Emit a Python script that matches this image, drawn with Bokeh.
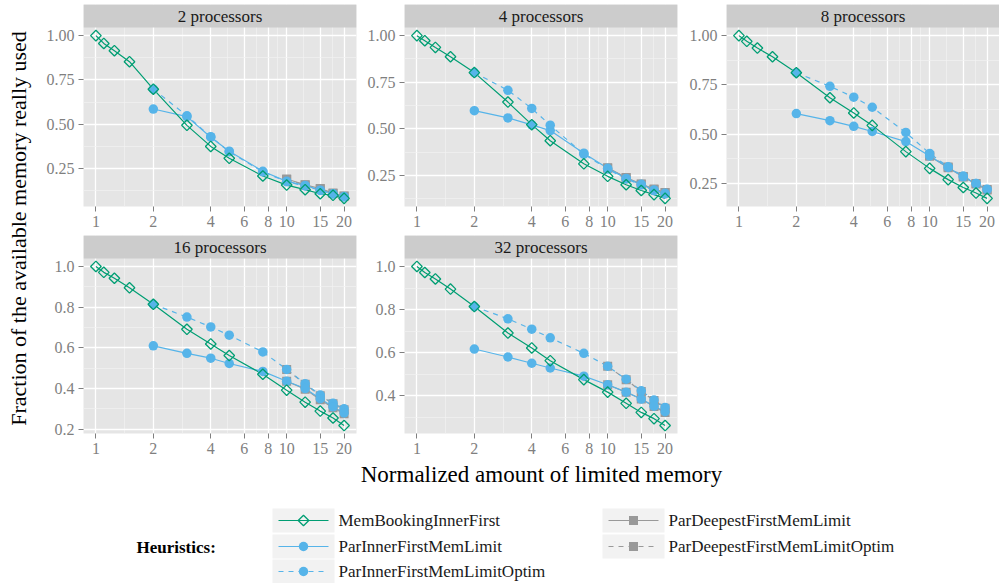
import math
from bokeh.plotting import figure
from bokeh.layouts import row, column
from bokeh.models import Range1d, FixedTicker, PrintfTickFormatter
from bokeh.embed import file_html
from bokeh.resources import INLINE
from bokeh.core.properties import value

# ---------------- data ----------------
X_MEM = [1, 1.1, 1.25, 1.5, 2, 3, 4, 5, 7.5, 10, 12.5, 15, 17.5, 20]
X_PAR = [2, 3, 4, 5, 7.5, 10, 12.5, 15, 17.5, 20]
X_DEEP = [10, 12.5, 15, 17.5, 20]
X_TICKS = [1, 2, 4, 6, 8, 10, 15, 20]

MEM_2 = [1.00, 0.956, 0.915, 0.853, 0.698, 0.494, 0.375, 0.308, 0.208, 0.157, 0.131, 0.108, 0.099, 0.082]
INNER_2 = [0.586, 0.543, 0.427, 0.348, 0.235, 0.178, 0.155, 0.128, 0.108, 0.092]
OPTIM_2 = [0.698, 0.548, 0.430, 0.345, 0.232, 0.176, 0.152, 0.127, 0.106, 0.090]
DEEP_2 = [0.191, 0.159, 0.137, 0.112, 0.095]
DEEPOPT_2 = [0.189, 0.157, 0.135, 0.110, 0.094]

MEM_4 = [1.00, 0.973, 0.937, 0.887, 0.802, 0.644, 0.523, 0.437, 0.313, 0.246, 0.201, 0.170, 0.148, 0.128]
INNER_4 = [0.598, 0.559, 0.522, 0.491, 0.370, 0.289, 0.235, 0.203, 0.173, 0.155]
OPTIM_4 = [0.802, 0.707, 0.610, 0.520, 0.365, 0.285, 0.232, 0.200, 0.170, 0.152]
DEEP_4 = [0.292, 0.240, 0.205, 0.178, 0.160]
DEEPOPT_4 = [0.290, 0.238, 0.203, 0.176, 0.158]

MEM_8 = [1.00, 0.971, 0.937, 0.893, 0.812, 0.685, 0.608, 0.545, 0.412, 0.327, 0.270, 0.230, 0.202, 0.175]
INNER_8 = [0.605, 0.569, 0.540, 0.514, 0.463, 0.390, 0.332, 0.284, 0.250, 0.221]
OPTIM_8 = [0.812, 0.743, 0.688, 0.637, 0.509, 0.403, 0.335, 0.288, 0.250, 0.220]
DEEP_8 = [0.388, 0.330, 0.283, 0.248, 0.218]
DEEPOPT_8 = [0.392, 0.334, 0.286, 0.250, 0.220]

MEM_16 = [1.00, 0.971, 0.942, 0.895, 0.814, 0.691, 0.619, 0.562, 0.470, 0.392, 0.333, 0.289, 0.255, 0.218]
INNER_16 = [0.610, 0.573, 0.549, 0.523, 0.484, 0.436, 0.400, 0.350, 0.310, 0.280]
OPTIM_16 = [0.814, 0.751, 0.703, 0.662, 0.580, 0.494, 0.424, 0.368, 0.328, 0.300]
DEEP_16 = [0.436, 0.397, 0.345, 0.306, 0.276]
DEEPOPT_16 = [0.494, 0.421, 0.365, 0.325, 0.296]

MEM_32 = [1.00, 0.972, 0.942, 0.895, 0.814, 0.691, 0.622, 0.563, 0.475, 0.417, 0.365, 0.323, 0.294, 0.262]
INNER_32 = [0.617, 0.580, 0.551, 0.529, 0.491, 0.451, 0.417, 0.385, 0.352, 0.326]
OPTIM_32 = [0.814, 0.757, 0.709, 0.669, 0.597, 0.537, 0.477, 0.423, 0.380, 0.346]
DEEP_32 = [0.451, 0.417, 0.385, 0.350, 0.322]
DEEPOPT_32 = [0.537, 0.475, 0.420, 0.378, 0.342]

PANEL_TITLES = ["2 processors", "4 processors", "8 processors", "16 processors", "32 processors"]
Y_TICKS_ROW1 = [0.25, 0.50, 0.75, 1.00]
Y_TICKS_ROW2 = [0.2, 0.4, 0.6, 0.8, 1.0]

LEGEND_TITLE = "Heuristics:"
NAMES = ["MemBookingInnerFirst", "ParInnerFirstMemLimit", "ParInnerFirstMemLimitOptim",
         "ParDeepestFirstMemLimit", "ParDeepestFirstMemLimitOptim"]
X_TITLE = "Normalized amount of limited memory"
Y_TITLE = "Fraction of the available memory really used"

# ---------------- style ----------------
FONT = "Liberation Serif"
GREEN, BLUE, GREY = "#009E73", "#56B4E9", "#999999"
TXT = "#1A1A1A"
AXC = "#7F7F7F"
STRIP_H = 23
DASH = "5 5"

# name -> (color, marker, dash)
STYLE = {
    NAMES[0]: (GREEN, "diamond", "solid"),
    NAMES[1]: (BLUE, "circle", "solid"),
    NAMES[2]: (BLUE, "circle", DASH),
    NAMES[3]: (GREY, "square", "solid"),
    NAMES[4]: (GREY, "square", DASH),
}


def add_marker(p, x, y, marker, color):
    if marker == "diamond":
        p.scatter(x, y, marker="square", angle=math.pi / 4, size=7.5,
                  fill_color=None, line_color=color, line_width=1.3)
    elif marker == "circle":
        p.scatter(x, y, marker="circle", size=9.5, fill_color=color, line_color=None)
    else:
        p.scatter(x, y, marker="square", size=9, fill_color=color, line_color=None)


def style_axis(ax):
    ax.axis_line_color = None
    ax.major_tick_line_color = AXC
    ax.major_tick_line_width = 1
    ax.major_tick_in = 0
    ax.major_tick_out = 5
    ax.minor_tick_line_color = None
    ax.major_label_text_color = AXC
    ax.major_label_text_font = FONT
    ax.major_label_text_font_size = "16px"
    ax.major_label_standoff = 4


def make_panel(title, series, yticks, yfmt, width, height, left, right, top, bottom):
    plot_h = height - top - bottom - STRIP_H
    lx0, lx1 = math.log10(min(X_MEM)), math.log10(max(X_MEM))
    ex = 0.05 * (lx1 - lx0)
    x0, x1 = 10 ** (lx0 - ex), 10 ** (lx1 + ex)
    vals = [v for (_, _, ys) in series for v in ys]
    lo, hi = min(vals), max(vals)
    ey = 0.05 * (hi - lo)
    y0, y1 = lo - ey, hi + ey
    ytop = y1 + STRIP_H * (y1 - y0) / plot_h

    p = figure(width=width, height=height, x_axis_type="log",
               x_range=Range1d(x0, x1), y_range=Range1d(y0, ytop),
               output_backend="svg", toolbar_location=None, title=None,
               min_border_left=left, min_border_right=right, min_border_top=top,
               min_border_bottom=bottom,
               background_fill_color="#E5E5E5", border_fill_color="white",
               outline_line_color=None)

    xminor = [math.sqrt(a * b) for a, b in zip(X_TICKS[:-1], X_TICKS[1:])]
    step = yticks[1] - yticks[0]
    ymaj = [t for t in yticks if y0 <= t <= y1]
    ymin = [t - step / 2 for t in yticks] + [yticks[-1] + step / 2]
    ymin = [t for t in ymin if y0 <= t <= y1]

    p.xaxis.ticker = FixedTicker(ticks=X_TICKS)
    p.xaxis.formatter = PrintfTickFormatter(format="%d")
    p.yaxis.ticker = FixedTicker(ticks=ymaj)
    p.yaxis.formatter = PrintfTickFormatter(format=yfmt)
    style_axis(p.xaxis[0])
    style_axis(p.yaxis[0])

    p.xgrid.ticker = FixedTicker(ticks=X_TICKS, minor_ticks=xminor)
    p.ygrid.ticker = FixedTicker(ticks=ymaj, minor_ticks=ymin)
    for g in (p.xgrid, p.ygrid):
        g.grid_line_color = "white"
        g.grid_line_width = 1.3
        g.minor_grid_line_color = "#F2F2F2"
        g.minor_grid_line_width = 0.7

    # lines first (grey, blue, green), then points in the same order
    order = list(reversed(series))
    for name, xs, ys in order:
        color, marker, dash = STYLE[name]
        p.line(xs, ys, line_color=color, line_width=1.2, line_dash=dash)
    for name, xs, ys in order:
        color, marker, dash = STYLE[name]
        add_marker(p, xs, ys, marker, color)

    # facet strip
    p.quad(left=[x0], right=[x1], bottom=[y1], top=[ytop],
           fill_color="#CCCCCC", line_color=None)
    p.text(x=[math.sqrt(x0 * x1)], y=[(y1 + ytop) / 2], text=[title],
           text_align="center", text_baseline="middle",
           text_font=value(FONT), text_font_size="17px", text_color=TXT)
    return p


def blank(w, h):
    f = figure(width=w, height=h, x_range=Range1d(0, w), y_range=Range1d(0, h),
               output_backend="svg", toolbar_location=None, title=None,
               min_border=0, x_axis_location=None, y_axis_location=None,
               outline_line_color=None, background_fill_color="white",
               border_fill_color="white")
    for g in f.grid:
        g.visible = False
    return f


DATA = [
    (MEM_2, INNER_2, OPTIM_2, DEEP_2, DEEPOPT_2),
    (MEM_4, INNER_4, OPTIM_4, DEEP_4, DEEPOPT_4),
    (MEM_8, INNER_8, OPTIM_8, DEEP_8, DEEPOPT_8),
    (MEM_16, INNER_16, OPTIM_16, DEEP_16, DEEPOPT_16),
    (MEM_32, INNER_32, OPTIM_32, DEEP_32, DEEPOPT_32),
]

# layout in page pixels
YT_W = 42
ROW1_H = 235   # top 4 + strip 23 + plot 179 + bottom 29
ROW2_H = 227   # strip 23 + plot 175 + bottom 29
COLS = [  # (width, left border, right border)
    (320, 41, 6),
    (322, 42, 7),
    (315, 42, 0),
]

panels = []
for i, (title, d) in enumerate(zip(PANEL_TITLES, DATA)):
    series = [(NAMES[0], X_MEM, d[0]), (NAMES[1], X_PAR, d[1]), (NAMES[2], X_PAR, d[2]),
              (NAMES[3], X_DEEP, d[3]), (NAMES[4], X_DEEP, d[4])]
    w, lb, rb = COLS[i % 3]
    if i < 3:
        panels.append(make_panel(title, series, Y_TICKS_ROW1, "%.2f", w, ROW1_H, lb, rb, 4, 29))
    else:
        panels.append(make_panel(title, series, Y_TICKS_ROW2, "%.1f", w, ROW2_H, lb, rb, 0, 29))

# y-axis title
yt = blank(YT_W, ROW1_H + ROW2_H)
yt.text(x=[18], y=[(ROW1_H + ROW2_H) - 228], text=[Y_TITLE], angle=math.pi / 2,
        text_align="center", text_baseline="middle",
        text_font=value(FONT), text_font_size="22px", text_color="#000000")

# x-axis title and legend
BW = YT_W + sum(c[0] for c in COLS)
TOP_B = ROW1_H + ROW2_H
BH = 583 - TOP_B
bot = blank(BW, BH)


def Y(page_y):
    return BH - (page_y - TOP_B)


bot.text(x=[541], y=[Y(474)], text=[X_TITLE], text_align="center",
         text_baseline="middle", text_font=value(FONT), text_font_size="23px",
         text_color="#000000")
bot.text(x=[136], y=[Y(547)], text=[LEGEND_TITLE], text_align="left",
         text_baseline="middle", text_font=value(FONT), text_font_size="17px",
         text_font_style="bold", text_color="#000000")

ROW_Y = [520, 546, 571]
COL_X = [272, 602]
KEY_W, KEY_H = 62, 24
slots = [(0, 0), (0, 1), (0, 2), (1, 0), (1, 1)]
for name, (c, r) in zip(NAMES, slots):
    color, marker, dash = STYLE[name]
    bx = COL_X[c]
    cy = Y(ROW_Y[r])
    bot.quad(left=[bx], right=[bx + KEY_W], bottom=[cy - KEY_H / 2], top=[cy + KEY_H / 2],
             fill_color="#F2F2F2", line_color=None)
    bot.line([bx + 6, bx + KEY_W - 6], [cy, cy], line_color=color, line_width=1.2,
             line_dash=dash)
    add_marker(bot, [bx + KEY_W / 2], [cy], marker, color)
    bot.text(x=[bx + KEY_W + 4], y=[cy], text=[name], text_align="left",
             text_baseline="middle", text_font=value(FONT), text_font_size="17px",
             text_color=TXT)

layout = column(
    row(yt, column(row(panels[0], panels[1], panels[2]), row(panels[3], panels[4]))),
    bot,
)

open("out.html", "w").write(file_html(layout, INLINE))
